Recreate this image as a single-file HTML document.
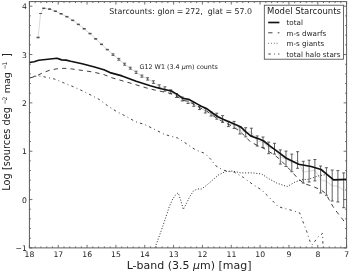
<!DOCTYPE html>
<html lang="en">
<head>
<meta charset="utf-8">
<title>Starcounts: glon = 272, glat = 57.0</title>
<style>
html,body{margin:0;padding:0;background:#fff;}
body{width:350px;height:273px;overflow:hidden;}
svg{display:block;}
</style>
</head>
<body>
<svg width="350" height="273" viewBox="0 0 350 273" font-family="'DejaVu Sans','Liberation Sans',sans-serif" fill="#222">
<rect width="350" height="273" fill="#fff"/>
<path d="M38.1 37.5 L40.6 13.5 L43.8 8.3 L49.6 9.1 L55.4 11.2 L61.1 13.8 L66.9 16.7 L72.7 20.3 L78.4 24.4 L84.2 28.8 L90.0 33.6 L95.7 38.9 L101.5 44.3 L107.3 49.6 L113.0 54.6 L118.8 59.3 L124.6 64.2 L130.3 68.2 L136.1 72.3 L141.9 76.1 L147.6 78.9 L153.4 82.1 L159.2 86.2 L164.9 89.0 L170.7 91.8 L176.5 95.5 L182.2 99.0 L188.0 101.5 L193.8 104.3 L199.5 108.0 L205.3 110.7 L211.1 114.0 L216.8 116.2 L222.6 119.0 L228.4 124.0 L234.1 124.9 L239.9 130.5 L245.7 132.3 L251.4 131.9 L257.2 141.0 L263.0 142.2 L268.7 147.9 L274.5 148.7 L280.3 157.0 L286.0 158.8 L291.8 162.9 L297.6 160.0 L303.3 172.2 L309.1 171.1 L314.9 170.2 L320.6 179.5 L326.4 181.5 L332.2 185.5 L337.9 186.3 L343.7 190.3" fill="none" stroke="#b4b4b4" stroke-width="0.5"/>
<path d="M38.1 37.2 V37.8 M36.6 37.2 H39.6 M36.6 37.8 H39.6 M43.8 8.0 V8.6 M42.3 8.0 H45.3 M42.3 8.6 H45.3 M49.6 8.8 V9.4 M48.1 8.8 H51.1 M48.1 9.4 H51.1 M55.4 10.9 V11.5 M53.9 10.9 H56.9 M53.9 11.5 H56.9 M61.1 13.5 V14.1 M59.6 13.5 H62.6 M59.6 14.1 H62.6 M66.9 16.4 V17.0 M65.4 16.4 H68.4 M65.4 17.0 H68.4 M72.7 20.0 V20.6 M71.2 20.0 H74.2 M71.2 20.6 H74.2 M78.4 24.1 V24.7 M76.9 24.1 H79.9 M76.9 24.7 H79.9 M84.2 28.5 V29.1 M82.7 28.5 H85.7 M82.7 29.1 H85.7 M90.0 33.3 V33.9 M88.5 33.3 H91.5 M88.5 33.9 H91.5 M95.7 38.6 V39.2 M94.2 38.6 H97.2 M94.2 39.2 H97.2 M101.5 44.0 V44.6 M100.0 44.0 H103.0 M100.0 44.6 H103.0 M107.3 49.3 V49.9 M105.8 49.3 H108.8 M105.8 49.9 H108.8 M113.0 53.8 V55.4 M111.5 53.8 H114.5 M111.5 55.4 H114.5 M118.8 58.4 V60.2 M117.3 58.4 H120.3 M117.3 60.2 H120.3 M124.6 63.2 V65.2 M123.1 63.2 H126.1 M123.1 65.2 H126.1 M130.3 67.2 V69.2 M128.8 67.2 H131.8 M128.8 69.2 H131.8 M136.1 71.2 V73.4 M134.6 71.2 H137.6 M134.6 73.4 H137.6 M141.9 75.0 V77.2 M140.4 75.0 H143.4 M140.4 77.2 H143.4 M147.6 77.7 V80.1 M146.1 77.7 H149.1 M146.1 80.1 H149.1 M153.4 80.8 V83.4 M151.9 80.8 H154.9 M151.9 83.4 H154.9 M159.2 84.8 V87.6 M157.7 84.8 H160.7 M157.7 87.6 H160.7 M164.9 86.8 V91.2 M163.4 86.8 H166.4 M163.4 91.2 H166.4 M170.7 89.8 V93.8 M169.2 89.8 H172.2 M169.2 93.8 H172.2 M176.5 93.5 V97.5 M175.0 93.5 H178.0 M175.0 97.5 H178.0 M182.2 97.0 V101.0 M180.7 97.0 H183.7 M180.7 101.0 H183.7 M188.0 99.5 V103.5 M186.5 99.5 H189.5 M186.5 103.5 H189.5 M193.8 102.3 V106.3 M192.3 102.3 H195.3 M192.3 106.3 H195.3 M199.5 106.4 V109.6 M198.0 106.4 H201.0 M198.0 109.6 H201.0 M205.3 108.4 V113.0 M203.8 108.4 H206.8 M203.8 113.0 H206.8 M211.1 112.0 V116.0 M209.6 112.0 H212.6 M209.6 116.0 H212.6 M216.8 113.2 V119.2 M215.3 113.2 H218.3 M215.3 119.2 H218.3 M222.6 115.6 V122.4 M221.1 115.6 H224.1 M221.1 122.4 H224.1 M228.4 121.4 V126.6 M226.9 121.4 H229.9 M226.9 126.6 H229.9 M234.1 121.4 V128.4 M232.6 121.4 H235.6 M232.6 128.4 H235.6 M239.9 127.0 V134.0 M238.4 127.0 H241.4 M238.4 134.0 H241.4 M245.7 127.7 V136.9 M244.2 127.7 H247.2 M244.2 136.9 H247.2 M251.4 128.2 V135.6 M249.9 128.2 H252.9 M249.9 135.6 H252.9 M257.2 135.9 V146.1 M255.7 135.9 H258.7 M255.7 146.1 H258.7 M263.0 137.0 V147.4 M261.5 137.0 H264.5 M261.5 147.4 H264.5 M268.7 142.1 V153.7 M267.2 142.1 H270.2 M267.2 153.7 H270.2 M274.5 143.3 V154.1 M273.0 143.3 H276.0 M273.0 154.1 H276.0 M280.3 149.9 V164.1 M278.8 149.9 H281.8 M278.8 164.1 H281.8 M286.0 151.1 V166.5 M284.5 151.1 H287.5 M284.5 166.5 H287.5 M291.8 154.1 V171.7 M290.3 154.1 H293.3 M290.3 171.7 H293.3 M297.6 151.7 V168.3 M296.1 151.7 H299.1 M296.1 168.3 H299.1 M303.3 161.3 V183.1 M301.8 161.3 H304.8 M301.8 183.1 H304.8 M309.1 160.2 V182.0 M307.6 160.2 H310.6 M307.6 182.0 H310.6 M314.9 159.5 V180.9 M313.4 159.5 H316.4 M313.4 180.9 H316.4 M320.6 166.0 V193.0 M319.1 166.0 H322.1 M319.1 193.0 H322.1 M326.4 167.7 V195.3 M324.9 167.7 H327.9 M324.9 195.3 H327.9 M332.2 170.0 V201.0 M330.7 170.0 H333.7 M330.7 201.0 H333.7 M337.9 170.6 V202.0 M336.4 170.6 H339.4 M336.4 202.0 H339.4 M343.7 172.9 V207.7 M342.2 172.9 H345.2 M342.2 207.7 H345.2 M39.1 13.5 H42.1" fill="none" stroke="#3a3a3a" stroke-width="0.8"/>
<path d="M29.2 77.7 L34.1 76.3 L38.7 75.9 L45.6 77.1 L54.7 79.1 L63.9 82.9 L73.0 86.6 L82.1 90.7 L91.3 95.3 L99.1 99.4 L108.3 106.3 L117.4 112.0 L126.6 116.6 L135.7 121.8 L144.9 124.6 L154.0 129.1 L163.1 133.7 L168.9 135.7 L177.4 137.9 L186.6 143.8 L195.7 150.0 L204.9 153.4 L210.6 159.1 L216.0 166.0 L222.9 170.1 L234.3 172.2 L243.4 177.4 L252.6 184.3 L261.7 190.0 L270.9 199.1 L278.0 206.5 L283.7 208.3 L292.9 210.6 L299.7 212.9 L303.1 222.0 L306.6 231.1 L310.0 241.4 L312.3 244.9 L318.0 236.9 L322.6 233.4 L323.0 247.5" fill="none" stroke="#2a2a2a" stroke-width="0.9" stroke-dasharray="2.4 3.3 0.9 3.2" stroke-dashoffset="5"/>
<path d="M155.1 247.5 L157.7 240.3 L161.5 230.0 L165.4 218.5 L169.2 206.9 L172.6 199.2 L175.6 194.9 L178.2 192.8 L180.8 200.5 L183.3 209.5 L185.9 204.4 L189.7 196.7 L193.6 190.8 L197.4 189.0 L201.3 189.0 L205.1 186.4 L209.1 183.1 L218.3 175.1 L225.1 171.7 L232.0 171.0 L241.1 172.9 L252.6 172.9 L261.7 174.0 L268.6 178.6 L276.9 183.1 L287.1 186.6 L295.1 182.0 L302.0 179.7 L308.9 179.2 L318.0 176.0 L326.0 174.5 L333.6 179.9 L346.6 179.4" fill="none" stroke="#222" stroke-width="1" stroke-dasharray="0.95 1.85"/>
<path d="M29.2 78.3 L36.4 75.9 L43.3 72.6 L50.1 70.1 L57.0 68.8 L63.9 68.3 L70.7 68.8 L82.1 70.4 L93.6 72.1 L103.9 74.6 L112.0 77.8 L130.0 83.0 L150.0 89.0 L170.5 93.4 L177.1 96.4 L182.9 100.4 L188.6 101.4 L194.3 104.6 L200.7 108.1 L206.4 110.9 L212.1 115.0 L217.9 119.0 L223.6 122.0 L231.9 126.0 L238.0 130.0 L245.0 136.0 L250.5 142.0 L265.0 149.0 L274.5 155.0 L280.0 159.5 L291.7 171.5 L298.0 178.6 L304.3 183.7 L312.3 186.2 L320.2 189.6 L324.2 192.2 L326.8 195.5 L329.0 199.6 L330.8 202.6 L332.8 206.3 L335.0 209.6 L337.2 212.4 L340.5 216.6 L343.0 219.8 L346.5 224.6" fill="none" stroke="#2a2a2a" stroke-width="0.9" stroke-dasharray="4.3 4.1" stroke-dashoffset="7.45"/>
<path d="M29.2 62.5 L34.1 61.7 L38.7 60.3 L47.9 59.2 L57.0 58.3 L61.6 59.9 L66.1 60.1 L70.7 61.3 L82.1 63.8 L93.6 66.7 L103.9 69.8 L110.0 72.6 L122.0 75.9 L136.2 81.3 L150.3 85.8 L160.0 88.5 L171.4 91.0 L177.1 94.4 L182.9 98.4 L188.6 99.2 L194.3 102.4 L200.7 105.9 L206.4 108.5 L212.1 112.7 L217.9 116.7 L223.6 119.6 L231.9 123.1 L241.0 127.1 L245.6 131.7 L251.3 136.3 L258.1 138.6 L263.7 141.0 L269.4 145.6 L276.3 150.7 L286.0 158.0 L298.6 164.2 L311.1 166.5 L321.0 169.5 L327.3 174.7 L333.6 179.9 L346.6 179.4" fill="none" stroke="#111" stroke-width="1.65" stroke-linejoin="round"/>
<path d="M29.40 247.9 v-3 M29.40 1.6 v3 M58.24 247.9 v-3 M58.24 1.6 v3 M87.07 247.9 v-3 M87.07 1.6 v3 M115.91 247.9 v-3 M115.91 1.6 v3 M144.75 247.9 v-3 M144.75 1.6 v3 M173.58 247.9 v-3 M173.58 1.6 v3 M202.42 247.9 v-3 M202.42 1.6 v3 M231.25 247.9 v-3 M231.25 1.6 v3 M260.09 247.9 v-3 M260.09 1.6 v3 M288.93 247.9 v-3 M288.93 1.6 v3 M317.76 247.9 v-3 M317.76 1.6 v3 M346.60 247.9 v-3 M346.60 1.6 v3 M35.17 247.9 v-1.5 M35.17 1.6 v1.5 M40.93 247.9 v-1.5 M40.93 1.6 v1.5 M46.70 247.9 v-1.5 M46.70 1.6 v1.5 M52.47 247.9 v-1.5 M52.47 1.6 v1.5 M64.00 247.9 v-1.5 M64.00 1.6 v1.5 M69.77 247.9 v-1.5 M69.77 1.6 v1.5 M75.54 247.9 v-1.5 M75.54 1.6 v1.5 M81.31 247.9 v-1.5 M81.31 1.6 v1.5 M92.84 247.9 v-1.5 M92.84 1.6 v1.5 M98.61 247.9 v-1.5 M98.61 1.6 v1.5 M104.37 247.9 v-1.5 M104.37 1.6 v1.5 M110.14 247.9 v-1.5 M110.14 1.6 v1.5 M121.68 247.9 v-1.5 M121.68 1.6 v1.5 M127.44 247.9 v-1.5 M127.44 1.6 v1.5 M133.21 247.9 v-1.5 M133.21 1.6 v1.5 M138.98 247.9 v-1.5 M138.98 1.6 v1.5 M150.51 247.9 v-1.5 M150.51 1.6 v1.5 M156.28 247.9 v-1.5 M156.28 1.6 v1.5 M162.05 247.9 v-1.5 M162.05 1.6 v1.5 M167.81 247.9 v-1.5 M167.81 1.6 v1.5 M179.35 247.9 v-1.5 M179.35 1.6 v1.5 M185.12 247.9 v-1.5 M185.12 1.6 v1.5 M190.88 247.9 v-1.5 M190.88 1.6 v1.5 M196.65 247.9 v-1.5 M196.65 1.6 v1.5 M208.19 247.9 v-1.5 M208.19 1.6 v1.5 M213.95 247.9 v-1.5 M213.95 1.6 v1.5 M219.72 247.9 v-1.5 M219.72 1.6 v1.5 M225.49 247.9 v-1.5 M225.49 1.6 v1.5 M237.02 247.9 v-1.5 M237.02 1.6 v1.5 M242.79 247.9 v-1.5 M242.79 1.6 v1.5 M248.56 247.9 v-1.5 M248.56 1.6 v1.5 M254.32 247.9 v-1.5 M254.32 1.6 v1.5 M265.86 247.9 v-1.5 M265.86 1.6 v1.5 M271.63 247.9 v-1.5 M271.63 1.6 v1.5 M277.39 247.9 v-1.5 M277.39 1.6 v1.5 M283.16 247.9 v-1.5 M283.16 1.6 v1.5 M294.69 247.9 v-1.5 M294.69 1.6 v1.5 M300.46 247.9 v-1.5 M300.46 1.6 v1.5 M306.23 247.9 v-1.5 M306.23 1.6 v1.5 M312.00 247.9 v-1.5 M312.00 1.6 v1.5 M323.53 247.9 v-1.5 M323.53 1.6 v1.5 M329.30 247.9 v-1.5 M329.30 1.6 v1.5 M335.07 247.9 v-1.5 M335.07 1.6 v1.5 M340.83 247.9 v-1.5 M340.83 1.6 v1.5 M29.4 247.90 h3 M346.6 247.90 h-3 M29.4 199.56 h3 M346.6 199.56 h-3 M29.4 151.22 h3 M346.6 151.22 h-3 M29.4 102.88 h3 M346.6 102.88 h-3 M29.4 54.54 h3 M346.6 54.54 h-3 M29.4 6.20 h3 M346.6 6.20 h-3 M29.4 238.23 h1.5 M346.6 238.23 h-1.5 M29.4 228.56 h1.5 M346.6 228.56 h-1.5 M29.4 218.90 h1.5 M346.6 218.90 h-1.5 M29.4 209.23 h1.5 M346.6 209.23 h-1.5 M29.4 189.89 h1.5 M346.6 189.89 h-1.5 M29.4 180.22 h1.5 M346.6 180.22 h-1.5 M29.4 170.56 h1.5 M346.6 170.56 h-1.5 M29.4 160.89 h1.5 M346.6 160.89 h-1.5 M29.4 141.55 h1.5 M346.6 141.55 h-1.5 M29.4 131.88 h1.5 M346.6 131.88 h-1.5 M29.4 122.22 h1.5 M346.6 122.22 h-1.5 M29.4 112.55 h1.5 M346.6 112.55 h-1.5 M29.4 93.21 h1.5 M346.6 93.21 h-1.5 M29.4 83.54 h1.5 M346.6 83.54 h-1.5 M29.4 73.88 h1.5 M346.6 73.88 h-1.5 M29.4 64.21 h1.5 M346.6 64.21 h-1.5 M29.4 44.87 h1.5 M346.6 44.87 h-1.5 M29.4 35.20 h1.5 M346.6 35.20 h-1.5 M29.4 25.54 h1.5 M346.6 25.54 h-1.5 M29.4 15.87 h1.5 M346.6 15.87 h-1.5" fill="none" stroke="#333" stroke-width="0.7"/>
<rect x="29.4" y="1.6" width="317.2" height="246.3" fill="none" stroke="#555" stroke-width="0.95"/>
<text x="29.5" y="256.7" font-size="7.7" text-anchor="middle">18</text>
<text x="58.3" y="256.7" font-size="7.7" text-anchor="middle">17</text>
<text x="87.2" y="256.7" font-size="7.7" text-anchor="middle">16</text>
<text x="116.0" y="256.7" font-size="7.7" text-anchor="middle">15</text>
<text x="144.8" y="256.7" font-size="7.7" text-anchor="middle">14</text>
<text x="173.7" y="256.7" font-size="7.7" text-anchor="middle">13</text>
<text x="202.5" y="256.7" font-size="7.7" text-anchor="middle">12</text>
<text x="231.4" y="256.7" font-size="7.7" text-anchor="middle">11</text>
<text x="260.2" y="256.7" font-size="7.7" text-anchor="middle">10</text>
<text x="289.0" y="256.7" font-size="7.7" text-anchor="middle">9</text>
<text x="317.9" y="256.7" font-size="7.7" text-anchor="middle">8</text>
<text x="346.7" y="256.7" font-size="7.7" text-anchor="middle">7</text>
<text x="26.9" y="251.0" font-size="7.7" text-anchor="end">−1</text>
<text x="26.9" y="202.7" font-size="7.7" text-anchor="end">0</text>
<text x="26.9" y="154.3" font-size="7.7" text-anchor="end">1</text>
<text x="26.9" y="106.0" font-size="7.7" text-anchor="end">2</text>
<text x="26.9" y="57.6" font-size="7.7" text-anchor="end">3</text>
<text x="26.9" y="9.3" font-size="7.7" text-anchor="end">4</text>
<text x="189.1" y="268.8" font-size="11" text-anchor="middle">L-band (3.5 <tspan font-style="italic">μ</tspan>m) [mag]</text>
<g transform="translate(10.4 0) rotate(-90)" font-size="9.8">
<text x="-190.7" y="0">Log [sources deg</text>
<text x="-104.5" y="-3.9" font-size="6.2" letter-spacing="-1.3">−2</text>
<text x="-93.3" y="0" font-size="9.5">mag</text>
<text x="-69.5" y="-3.9" font-size="6.2" letter-spacing="-1.3">−1</text>
<text x="-57.0" y="0">]</text>
</g>
<text x="109.2" y="13.8" font-size="7.88" xml:space="preserve"><tspan letter-spacing="0.07">Starcounts: glon</tspan><tspan dx="-0.5"> =</tspan><tspan dx="-0.6"> 272,  glat = 57.0</tspan></text>
<text x="139.5" y="68.6" font-size="6.38">G12 W1 (3.4 <tspan font-style="italic">μ</tspan>m) counts</text>
<rect x="264.3" y="5.2" width="79.3" height="54.0" fill="#fff" stroke="#444" stroke-width="0.8"/>
<text x="304" y="14.4" font-size="8.5" text-anchor="middle">Model Starcounts</text>
<path d="M268.2 22.5 H279.4" stroke="#111" stroke-width="1.65"/>
<path d="M268.2 32.8 H279.4" stroke="#2a2a2a" stroke-width="0.9" stroke-dasharray="4.3 5.2"/>
<path d="M268.2 43.3 H279.4" stroke="#555" stroke-width="0.9" stroke-dasharray="0.9 1.9"/>
<path d="M268.4 54.0 H279.4" stroke="#2a2a2a" stroke-width="0.9" stroke-dasharray="2.4 3.3 0.9 3.2"/>
<text x="286.5" y="24.8" font-size="7.2">total</text>
<text x="286.5" y="35.6" font-size="7.2">m-s dwarfs</text>
<text x="286.5" y="46.2" font-size="7.2">m-s giants</text>
<text x="286.5" y="57.1" font-size="7.2">total halo stars</text>
</svg>
</body>
</html>
